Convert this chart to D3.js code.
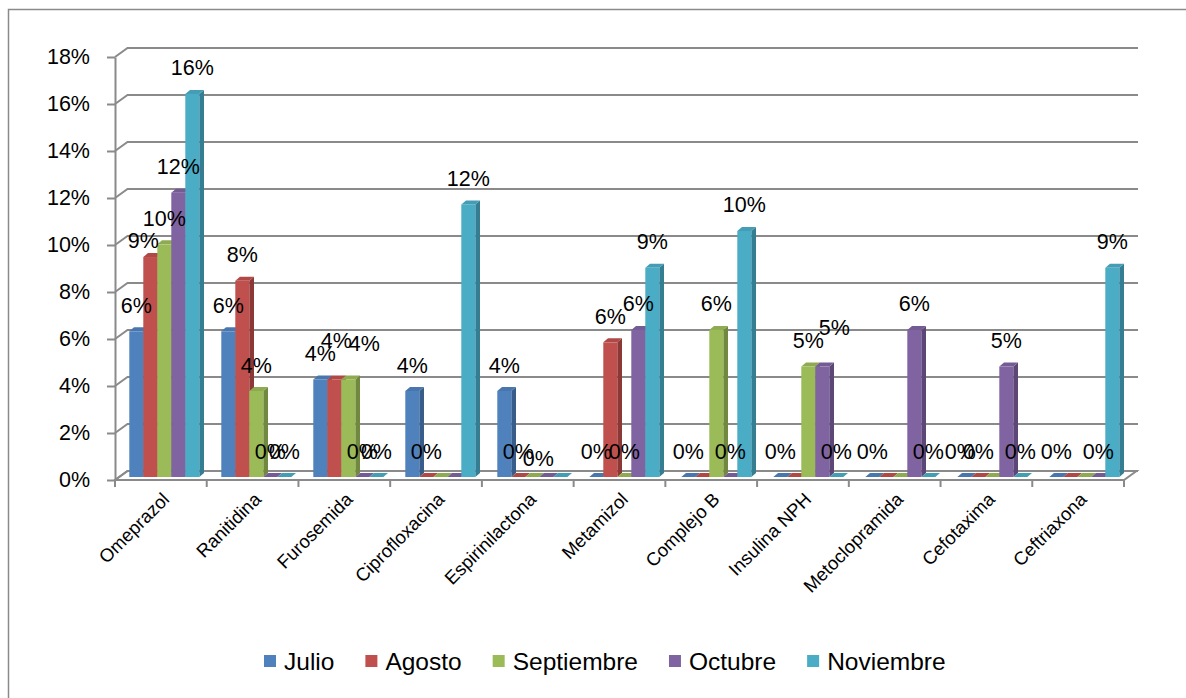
<!DOCTYPE html>
<html>
<head>
<meta charset="utf-8">
<script src="https://cdn.jsdelivr.net/npm/d3@7"></script>
<style>
  body { margin: 0; background: #fff; }
  text { font-family: "Liberation Sans", Arial, sans-serif; fill: #000; }
</style>
</head>
<body>
<div id="chart"></div>
<script>
const categories = ["Omeprazol", "Ranitidina", "Furosemida", "Ciprofloxacina", "Espirinilactona",
  "Metamizol", "Complejo B", "Insulina NPH", "Metoclopramida", "Cefotaxima", "Ceftriaxona"];
const seriesNames = ["Julio", "Agosto", "Septiembre", "Octubre", "Noviembre"];

// percent values per month
const julio      = [6.2, 6.2, 4.15, 3.66, 3.66, 0, 0, 0, 0, 0, 0];
const agosto     = [9.36, 8.35, 4.15, 0, 0, 5.73, 0, 0, 0, 0, 0];
const septiembre = [9.9, 3.66, 4.15, 0, 0, 0, 6.26, 4.7, 0, 0, 0];
const octubre    = [12.1, 0, 0, 0, 0, 6.26, 0, 4.7, 6.26, 4.7, 0];
const noviembre  = [16.3, 0, 0, 11.6, 0, 8.9, 10.47, 0, 0, 0, 8.9];

const yTicks = [0, 2, 4, 6, 8, 10, 12, 14, 16, 18];

// labels removed in the original chart
const hiddenLabels = {
  "Ciprofloxacina": ["Septiembre", "Octubre"],
  "Espirinilactona": ["Octubre", "Noviembre"],
  "Complejo B": ["Agosto"],
  "Insulina NPH": ["Agosto"],
  "Metoclopramida": ["Agosto", "Septiembre"],
  "Cefotaxima": ["Septiembre"],
  "Ceftriaxona": ["Agosto", "Septiembre"]
};

const colors = ["#4F81BD", "#C0504D", "#9BBB59", "#8064A2", "#4BACC6"];
const sideColors = ["#385D8A", "#8C3836", "#71893F", "#5C4776", "#357D91"];

const allValues = [julio, agosto, septiembre, octubre, noviembre];

// excel moved a few overlapping labels by hand
const labelNudge = {
  "Omeprazol|Agosto": [-7, 9],
  "Furosemida|Agosto": [2, -13],
  "Furosemida|Septiembre": [16, -10],
  "Espirinilactona|Septiembre": [6, 7],
  "Insulina NPH|Octubre": [12, -13],
  "Cefotaxima|Julio": [-4, 0]
};

const width = 1186, height = 698;
const depth = { x: 12.5, y: -9 };       // floor / wall depth
const barDepth = { x: 4.7, y: -4 };     // bar thickness
const barW = 14;

const svg = d3.select("#chart")
  .append("svg")
  .attr("width", width)
  .attr("height", height);

// chart frame
svg.append("rect")
  .attr("x", 8.5).attr("y", 9.5)
  .attr("width", 1200).attr("height", 700)
  .attr("fill", "none")
  .attr("stroke", "#8a8a8a")
  .attr("stroke-width", 1.5);

const y = d3.scaleLinear().domain([0, 18]).range([480, 57]);
const x = d3.scaleBand().domain(categories).range([115, 1124]);
// bar plane sits a third of the way back
const xBar = d3.scaleBand().domain(categories).range([115.8, 1127.8]);
const yBar = v => y(v) - 3;

const grid = svg.append("g")
  .attr("stroke", "#8a8a8a")
  .attr("stroke-width", 2)
  .attr("fill", "none");

// floor
const x0 = x.range()[0], x1 = x.range()[1];
grid.append("path")
  .attr("fill", "#fff")
  .attr("d", `M${x0},${y(0)}L${x1},${y(0)}L${x1 + depth.x},${y(0) + depth.y}L${x0 + depth.x},${y(0) + depth.y}Z`);

// back wall gridlines + left wall diagonals
yTicks.forEach(t => {
  const yf = y(t);
  grid.append("path")
    .attr("d", `M${x0},${yf}L${x0 + depth.x},${yf + depth.y}L${1138},${yf + depth.y}`);
});

// y axis
const yAxis = svg.append("g")
  .attr("transform", `translate(${x0},0)`)
  .call(d3.axisLeft(y)
    .tickValues(yTicks)
    .tickSize(8)
    .tickSizeOuter(0)
    .tickPadding(17)
    .tickFormat(d => d + "%"));
yAxis.select(".domain").attr("stroke", "#8a8a8a").attr("stroke-width", 2);
yAxis.selectAll(".tick line").attr("stroke", "#8a8a8a").attr("stroke-width", 2);
yAxis.selectAll(".tick text")
  .style("font-family", "Liberation Sans, Arial, sans-serif")
  .attr("font-size", 21.5)
  .attr("fill", "#000");

// x axis ticks at category boundaries
const xTickPos = categories.map(c => x(c)).concat([x1]);
svg.append("g")
  .selectAll("line")
  .data(xTickPos)
  .join("line")
  .attr("x1", d => d).attr("x2", d => d)
  .attr("y1", y(0)).attr("y2", y(0) + 7)
  .attr("stroke", "#8a8a8a")
  .attr("stroke-width", 2);

svg.append("g")
  .selectAll("text")
  .data(categories)
  .join("text")
  .attr("transform", d => `translate(${x(d) + x.bandwidth() / 2 + 5},${496}) rotate(-45)`)
  .attr("text-anchor", "end")
  .attr("dy", "0.35em")
  .attr("font-size", 18.5)
  .text(d => d);

// bars
const bars = [];
categories.forEach((c, i) => {
  seriesNames.forEach((s, j) => {
    bars.push({ cat: c, series: s, j: j, value: allValues[j][i] });
  });
});

const barG = svg.append("g");
bars.forEach(b => {
  const bx = xBar(b.cat) + 13.5 + b.j * barW;
  const yt = yBar(b.value), yb = yBar(0);
  const g = barG.append("g");
  g.append("path")
    .attr("fill", sideColors[b.j])
    .attr("d", `M${bx + barW},${yt}L${bx + barW + barDepth.x},${yt + barDepth.y}L${bx + barW + barDepth.x},${yb + barDepth.y}L${bx + barW},${yb}Z`);
  g.append("path")
    .attr("fill", d3.color(colors[b.j]).darker(0.25))
    .attr("d", `M${bx},${yt}L${bx + barW},${yt}L${bx + barW + barDepth.x},${yt + barDepth.y}L${bx + barDepth.x},${yt + barDepth.y}Z`);
  g.append("rect")
    .attr("x", bx).attr("y", yt)
    .attr("width", barW).attr("height", yb - yt)
    .attr("fill", colors[b.j]);
  b.cx = bx + barW / 2;
  b.top = yt;
});

// value labels
const fmt = d3.format(".0%");
svg.append("g")
  .selectAll("text")
  .data(bars.filter(b => !(hiddenLabels[b.cat] || []).includes(b.series)))
  .join("text")
  .attr("x", b => b.cx + (labelNudge[b.cat + "|" + b.series] || [0, 0])[0])
  .attr("y", b => b.top - 26 + (labelNudge[b.cat + "|" + b.series] || [0, 0])[1])
  .attr("dy", "0.35em")
  .attr("text-anchor", "middle")
  .attr("font-size", 21.5)
  .text(b => fmt(b.value / 100));

// legend
const legend = svg.append("g").attr("transform", "translate(264,661)");
let lx = 0;
seriesNames.forEach((s, j) => {
  const item = legend.append("g").attr("transform", `translate(${lx},0)`);
  item.append("rect")
    .attr("x", 0).attr("y", -6)
    .attr("width", 12).attr("height", 12)
    .attr("fill", colors[j]);
  const t = item.append("text")
    .attr("x", 20)
    .attr("dy", "0.35em")
    .attr("font-size", 24.5)
    .text(s);
  lx += 20 + t.node().getComputedTextLength() + 31;
});
</script>
</body>
</html>
